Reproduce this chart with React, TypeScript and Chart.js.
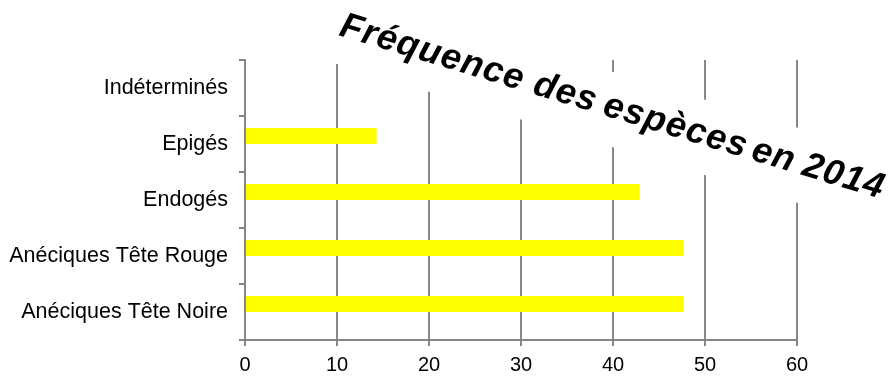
import React, { useEffect, useRef } from "react";
import { Chart, registerables } from "chart.js";

Chart.register(...registerables);

const categories = [
  "Indéterminés",
  "Epigés",
  "Endogés",
  "Anéciques Tête Rouge",
  "Anéciques Tête Noire",
];
const frequences = [0, 14.3, 42.9, 47.7, 47.7];
const serieVide: (number | null)[] = [];
const xMin = 0;
const xMax = 60;
const xStep = 10;
const titreMots = ["Fréquence", "des", "espèces", "en", "2014"];

const GRID = "#868686";
const FONT = '"Liberation Sans", Arial, sans-serif';

// layout of the rotated title (offsets along its baseline)
const TITLE_X = 338;
const TITLE_Y = 35;
const TITLE_ANGLE = 16.8;
const WORD_OFFSETS = [0, 202, 275, 430, 483];

const titlePlugin = {
  id: "rotatedTitle",
  afterDraw(chart: any) {
    const ctx = chart.ctx as CanvasRenderingContext2D;
    ctx.save();
    ctx.translate(TITLE_X, TITLE_Y);
    ctx.rotate((TITLE_ANGLE * Math.PI) / 180);
    ctx.font = `italic bold 36px ${FONT}`;
    (ctx as any).letterSpacing = "1px";
    const last = titreMots.length - 1;
    const end = WORD_OFFSETS[last] + ctx.measureText(titreMots[last]).width;
    ctx.fillStyle = "#ffffff";
    ctx.fillRect(-10, -44, end + 20, 72);
    ctx.fillStyle = "#000000";
    ctx.textAlign = "left";
    ctx.textBaseline = "alphabetic";
    titreMots.forEach((m, i) => ctx.fillText(m, WORD_OFFSETS[i], 0));
    ctx.restore();
  },
};

export default function App() {
  const ref = useRef<HTMLCanvasElement | null>(null);

  useEffect(() => {
    if (!ref.current) return;
    const chart = new Chart(ref.current, {
      type: "bar",
      data: {
        labels: categories,
        datasets: [
          {
            label: "Fréquence",
            data: frequences,
            backgroundColor: "#FFFF00",
            borderWidth: 0,
            categoryPercentage: 0.572,
            barPercentage: 1,
          },
          {
            label: "",
            data: serieVide,
            backgroundColor: "#FFFF00",
            borderWidth: 0,
            categoryPercentage: 0.572,
            barPercentage: 1,
          },
        ],
      },
      options: {
        indexAxis: "y",
        responsive: false,
        animation: false,
        layout: { padding: { top: 60, right: 96, left: 0, bottom: 0 } },
        plugins: {
          legend: { display: false },
          tooltip: { enabled: false },
          title: { display: false },
        },
        scales: {
          x: {
            min: xMin,
            max: xMax,
            ticks: {
              stepSize: xStep,
              color: "#000",
              padding: 7,
              font: { family: FONT, size: 20 },
            },
            grid: {
              color: GRID,
              lineWidth: 2,
              tickLength: 6,
              drawOnChartArea: true,
            },
            border: { display: true, color: GRID, width: 2 },
            afterFit: (s: any) => {
              s.height = 50;
            },
          },
          y: {
            ticks: {
              color: "#000",
              padding: 11,
              font: { family: FONT, size: 21.5 },
            },
            grid: {
              color: GRID,
              lineWidth: 2,
              tickLength: 6,
              drawOnChartArea: false,
              offset: true,
            },
            border: { display: true, color: GRID, width: 2 },
            afterFit: (s: any) => {
              s.width = 245;
            },
          },
        },
      },
      plugins: [titlePlugin],
    });
    return () => chart.destroy();
  }, []);

  return (
    <div style={{ position: "absolute", left: 0, top: 0, width: 893, height: 390, background: "#fff" }}>
      <canvas ref={ref} width={893} height={390} />
    </div>
  );
}
